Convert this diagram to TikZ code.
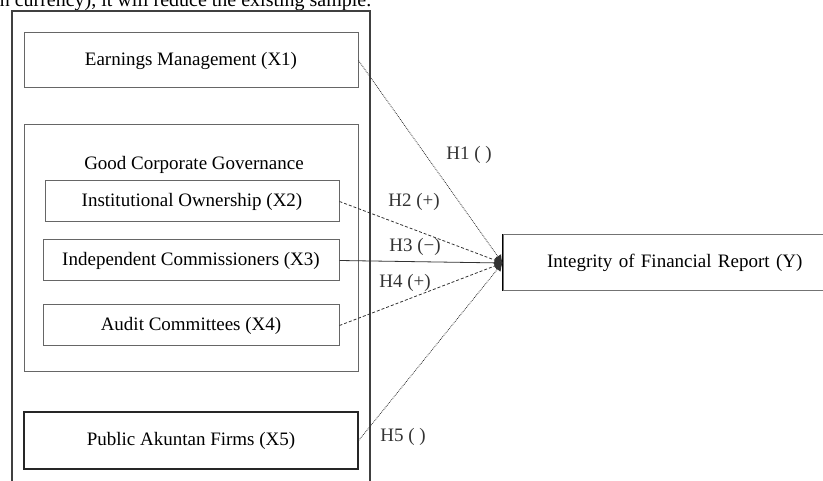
\documentclass[tikz,border=0pt]{standalone}
\usepackage{fontspec}
\setmainfont{Liberation Serif}
\usetikzlibrary{arrows.meta}
\begin{document}
\begin{tikzpicture}[x=1pt,y=-1pt,
  box/.style={draw=black!60, line width=1pt, inner sep=0pt, font=\fontsize{19}{21}\selectfont},
  lbl/.style={font=\fontsize{19}{21}\selectfont, inner sep=1pt, text=black!80},
  conn/.style={line width=0.8pt, black!80, -{Latex[length=8pt,width=8pt]}},
  dotline/.style={conn, densely dotted},
  dashline/.style={conn, dash pattern=on 3pt off 2pt}]
\useasboundingbox (0,0) rectangle (823,481);
\clip (0,0) rectangle (823,481);
% cropped page text at top
\node[anchor=base west, inner sep=0pt, font=\fontsize{20}{24}\selectfont] (toptext) at (-6,7) {in currency), it will reduce the existing sample.};
% outer frame
\draw[line width=1.3pt, black!75] (12,500) -- (12,11) -- (370,11) -- (370,500);
% boxes
\node[box, minimum width=334pt, minimum height=55pt] (x1) at (191,60.5) {Earnings Management (X1)};
\node[box, minimum width=334pt, minimum height=247pt] (gcg) at (191,248.5) {};
\node[font=\fontsize{19}{21}\selectfont, inner sep=0pt] (gcgt) at (194,165) {Good Corporate Governance};
\node[box, minimum width=294pt, minimum height=41pt] (x2) at (192,201.5) {Institutional Ownership (X2)};
\node[box, minimum width=296pt, minimum height=41pt] (x3) at (191,260.5) {Independent Commissioners (X3)};
\node[box, minimum width=296pt, minimum height=41pt] (x4) at (191,325.5) {Audit Committees (X4)};
\node[box, draw=black!85, line width=1.3pt, minimum width=334pt, minimum height=57pt] (x5) at (191,440.5) {Public Akuntan Firms (X5)};
% dependent
\node[box, draw=black!55, minimum width=340pt, minimum height=56pt, text width=340pt, align=left] (y) at (673,263) {\hspace{44pt}Integrity of Financial Report (Y)};
\draw[line width=1.5pt, black] (y.north west) -- (y.south west);
% connectors
\draw[dotline] (x1.east) -- (y.west);
\draw[dashline] (x2.east) -- (y.west);
\draw[conn] (x3.east) -- (y.west);
\draw[dashline] (x4.east) -- (y.west);
\draw[dotline] (x5.east) -- (y.west);
% labels
\node[lbl] (h1) at (469,155) {H1 ( )};
\node[lbl] (h2) at (414,202) {H2 (+)};
\node[lbl] (h3) at (415,247) {H3 (−)};
\node[lbl] (h4) at (405,283) {H4 (+)};
\node[lbl] (h5) at (403,437) {H5 ( )};
\end{tikzpicture}
\end{document}
